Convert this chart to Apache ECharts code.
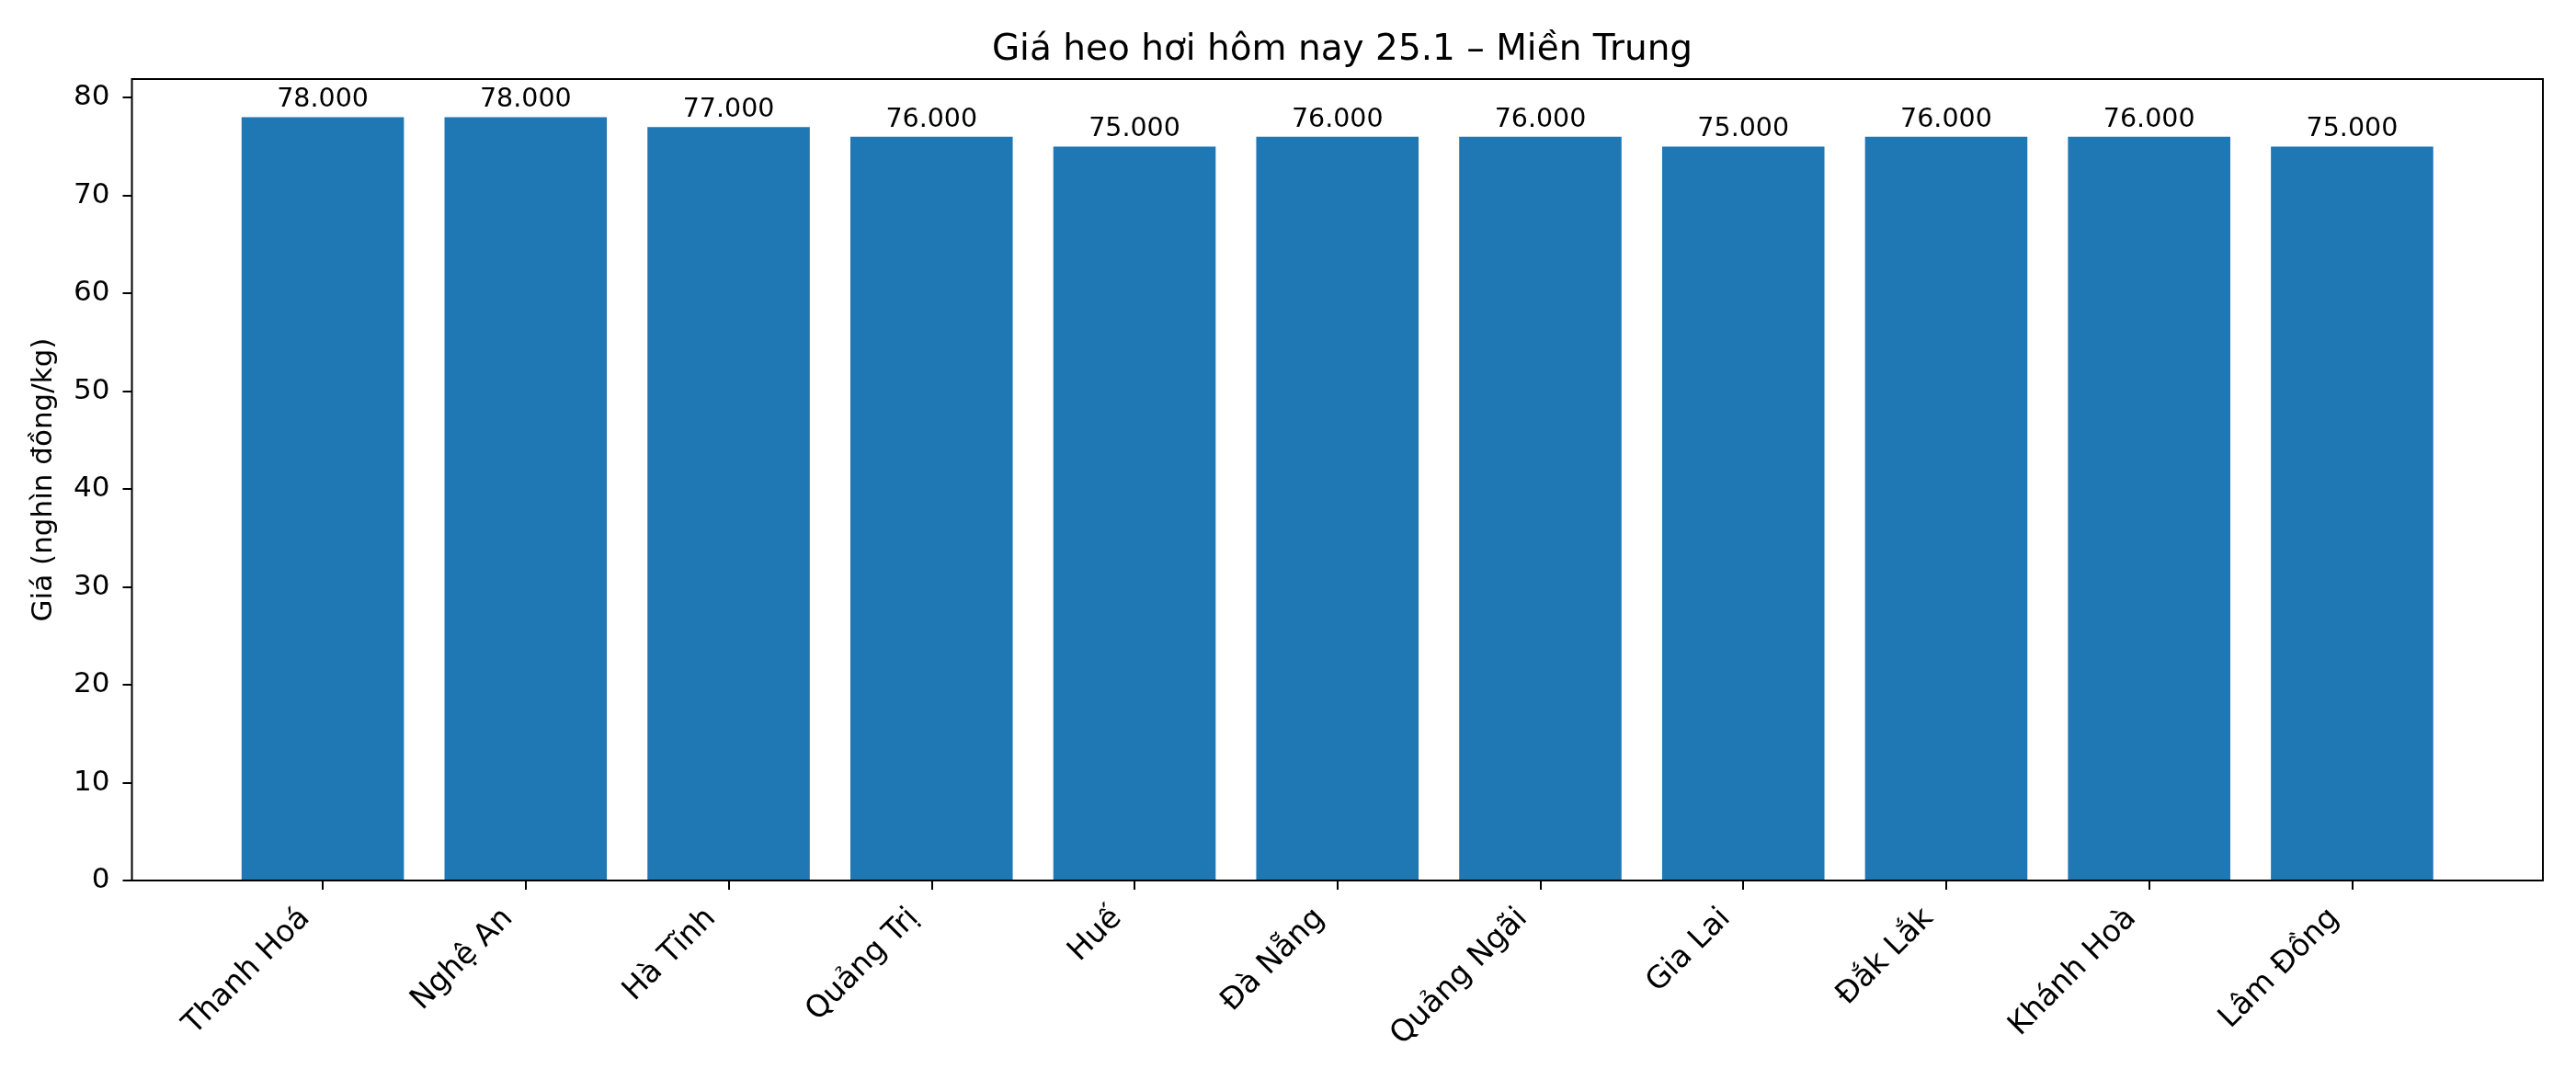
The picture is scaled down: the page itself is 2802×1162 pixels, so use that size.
<!DOCTYPE html>
<html>
<head>
<meta charset="utf-8">
<title>Giá heo hơi hôm nay 25.1 – Miền Trung</title>
<script src="https://cdn.jsdelivr.net/npm/echarts@6/dist/echarts.min.js"></script>
<style>
  html, body { margin: 0; padding: 0; background: #fff; }
  #chart { width: 2802px; height: 1162px; }
</style>
</head>
<body>
<div id="chart"></div>
<script>
// data
const provinces = ["Thanh Hoá", "Nghệ An", "Hà Tĩnh", "Quảng Trị", "Huế", "Đà Nẵng",
  "Quảng Ngãi", "Gia Lai", "Đắk Lắk", "Khánh Hoà", "Lâm Đồng"];
const prices = [78, 78, 77, 76, 75, 76, 76, 75, 76, 76, 75];
const yTicks = [0, 10, 20, 30, 40, 50, 60, 70, 80];
const yMax = 81.9;

const FONT = "DejaVu Sans";
const chart = echarts.init(document.getElementById("chart"), null, { renderer: "canvas" });

// frame box (matplotlib axes) and the inner data grid, inset by the x margins
const frame = { left: 143.5, right: 36, top: 86, bottom: 204 };
const inset = 97.2;

chart.setOption({
  backgroundColor: "#ffffff",
  animation: false,
  title: {
    text: "Giá heo hơi hôm nay 25.1 – Miền Trung",
    left: 1455,
    textAlign: "center",
    top: 30,
    textStyle: { fontFamily: FONT, fontSize: 39, fontWeight: "normal", color: "#000" }
  },
  grid: [
    { ...frame, show: true, borderColor: "#000", borderWidth: 2, backgroundColor: "transparent" },
    { left: frame.left + inset, right: frame.right + inset, top: frame.top, bottom: frame.bottom }
  ],
  xAxis: [
    {
      gridIndex: 0, type: "category", data: provinces, z: 10,
      axisLine: { show: true, lineStyle: { color: "#000", width: 2 } },
      axisTick: { show: false }, axisLabel: { show: false }, splitLine: { show: false }
    },
    {
      gridIndex: 1, type: "category", data: provinces,
      axisLine: { show: false },
      axisTick: { show: true, alignWithLabel: true, length: 10, lineStyle: { color: "#000", width: 2 } },
      axisLabel: {
        interval: 0, rotate: 45, margin: 17, padding: [0, 27, 0, 0],
        fontFamily: FONT, fontSize: 33, color: "#000"
      },
      splitLine: { show: false }
    }
  ],
  yAxis: [
    {
      gridIndex: 0, type: "value", min: 0, max: yMax, interval: 10,
      name: "Giá (nghìn đồng/kg)", nameLocation: "middle", nameGap: 80,
      nameTextStyle: { fontFamily: FONT, fontSize: 31, color: "#000" },
      axisLine: { show: false },
      axisTick: { show: true, length: 10, customValues: yTicks, lineStyle: { color: "#000", width: 2 } },
      axisLabel: { customValues: yTicks, margin: 24, fontFamily: FONT, fontSize: 31, color: "#000" },
      splitLine: { show: false }
    },
    {
      gridIndex: 1, type: "value", min: 0, max: yMax, show: false, splitLine: { show: false }
    }
  ],
  series: [
    {
      type: "bar",
      xAxisIndex: 1, yAxisIndex: 1,
      data: prices,
      barCategoryGap: "20%",
      itemStyle: { color: "#1f77b4" },
      label: {
        show: true, position: "top", distance: 4,
        fontFamily: FONT, fontSize: 28.5, color: "#000",
        formatter: (p) => p.value.toFixed(3)
      }
    }
  ]
});
</script>
</body>
</html>
